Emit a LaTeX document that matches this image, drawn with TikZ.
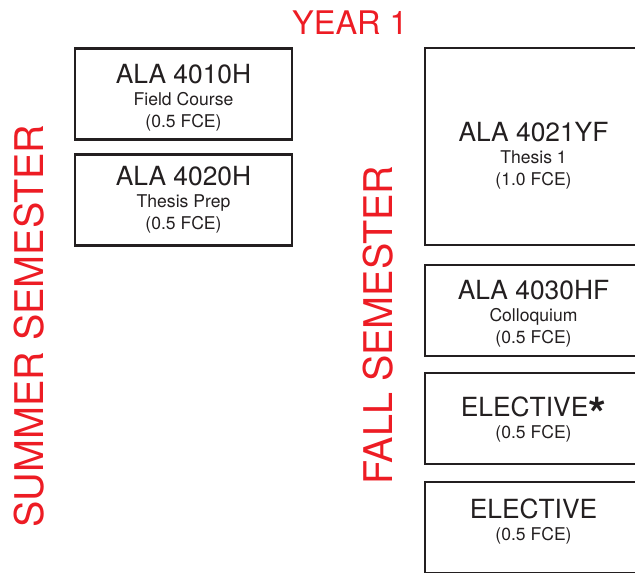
\documentclass[tikz,border=0pt]{standalone}
\usepackage{fontspec}
\setmainfont{TeX Gyre Heros}
\usetikzlibrary{positioning}
\definecolor{ink}{HTML}{231F20}
\definecolor{yearred}{HTML}{ED1C24}
\tikzset{
  course/.style={draw=ink,line width=1.4pt,outer sep=0pt,inner sep=0pt,
                 minimum width=4.34cm,minimum height=1.82cm,align=center,
                 text=ink,font=\fontsize{10}{12.5}\selectfont},
  tallcourse/.style={course,minimum height=3.94cm},
  semester/.style={text=yearred,rotate=90,inner sep=0pt,
                   font=\fontsize{22.5}{26}\selectfont},
  yearlabel/.style={text=yearred,inner sep=0pt,font=\fontsize{18.5}{22}\selectfont},
}
\newcommand{\coursecode}[1]{{\fontsize{15}{12}\selectfont #1}}
\newcommand{\bigstar}{\raisebox{-7.6pt}[0pt][0pt]{\fontsize{26}{12}\selectfont\bfseries *}}

\begin{document}
\begin{tikzpicture}[x=0.02cm,y=-0.02cm]
  \useasboundingbox (0,0) rectangle (635,573);
  \clip (0,0) rectangle (635,573);
  % headings
  \node[yearlabel] (year) at (350,22.5) {YEAR 1};
  \node[semester] (summer) at (29.5,326) {SUMMER SEMESTER};
  \node[semester] (fall) at (378.5,325) {FALL SEMESTER};
  % summer courses
  \node[course] (fieldcourse) at (183.5,94)
    {\rule{0pt}{14.7pt}\coursecode{ALA 4010H}\\Field Course\\(0.5 FCE)};
  \node[course,below=0.3cm of fieldcourse] (thesisprep)
    {\coursecode{ALA 4020H}\\Thesis Prep\\(0.5 FCE)};
  % fall courses
  \node[tallcourse] (thesisone) at (533.5,146.5)
    {\rule{0pt}{21.6pt}\coursecode{ALA 4021YF}\\Thesis 1\\(1.0 FCE)};
  \node[course,below=0.4cm of thesisone] (colloquium)
    {\rule{0pt}{15.1pt}\coursecode{ALA 4030HF}\\Colloquium\\(0.5 FCE)};
  \node[course,below=0.34cm of colloquium] (elective)
    {\rule{0pt}{12.8pt}\coursecode{ELECTIVE\bigstar}\\(0.5 FCE)};
  \node[course,below=0.36cm of elective] (electivefree)
    {\coursecode{ELECTIVE}\\(0.5 FCE)\rule[-9pt]{0pt}{9pt}};
\end{tikzpicture}
\end{document}
